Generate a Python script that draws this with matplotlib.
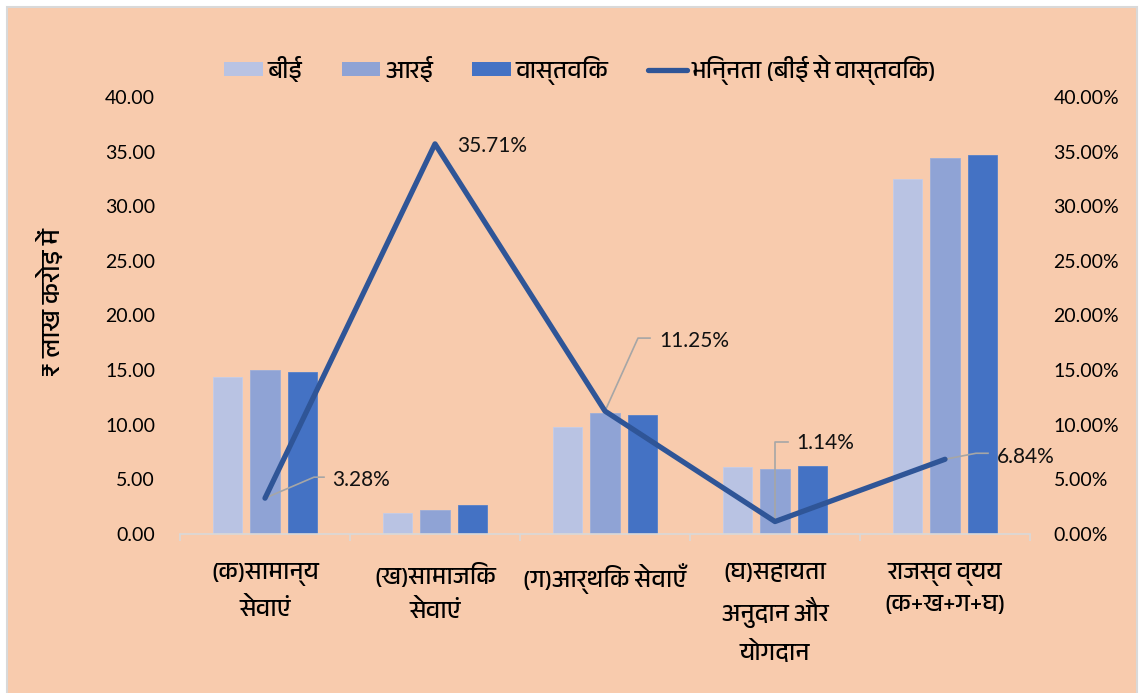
import matplotlib
matplotlib.use('Agg')
import matplotlib.pyplot as plt
from matplotlib import font_manager as fm
from matplotlib.ft2font import FT2Font
from matplotlib.patches import Rectangle, Patch
from matplotlib.lines import Line2D
import numpy as np

# ---------------- data ----------------
categories = ['(क)सामान्य\nसेवाएं', '(ख)सामाजिक\nसेवाएं', '(ग)आर्थिक सेवाएँ',
              '(घ)सहायता\nअनुदान और\nयोगदान', 'राजस्व व्यय\n(क+ख+ग+घ)']
be_values = [14.35, 1.92, 9.80, 6.13, 32.47]
re_values = [15.00, 2.20, 11.05, 5.92, 34.40]
actual_values = [14.82, 2.62, 10.92, 6.20, 34.68]
variance_pct = [3.28, 35.71, 11.25, 1.14, 6.84]
series_names = ['बीई', 'आरई', 'वास्तविक', 'भिन्नता (बीई से वास्तविक)']
y_label = '₹ लाख करोड़ में'
left_ticks = [0, 5, 10, 15, 20, 25, 30, 35, 40]
right_ticks = [0, 5, 10, 15, 20, 25, 30, 35, 40]

# ---------------- fonts ----------------
deva = None
cands = []
for f in fm.fontManager.ttflist:
    try:
        cm = FT2Font(f.fname).get_charmap()
    except Exception:
        continue
    if 0x0915 in cm:
        cands.append(f.name)
for c in cands:
    if 'Devanagari' in c:
        deva = c
        break
if deva is None and cands:
    deva = cands[0]
num_font = ['Lato', 'DejaVu Sans']
hin_font = ([deva] if deva else []) + ['Lato', 'DejaVu Sans']
plt.rcParams['font.family'] = hin_font

W, H = 1141, 693
fig = plt.figure(figsize=(W / 100, H / 100), dpi=100)
fig.patch.set_facecolor('white')
fig.patches.append(Rectangle((7 / W, -0.01), (1137 - 7) / W, 1 - 7 / H + 0.01,
                             transform=fig.transFigure, facecolor='#F8CBAD',
                             edgecolor='#D9D9D9', lw=1.5, zorder=-10))

L, R, B, T = 180, 1030, 534, 97
ax = fig.add_axes([L / W, 1 - B / H, (R - L) / W, (B - T) / H])
ax.set_facecolor('none')
ax2 = ax.twinx()

c_be, c_re, c_act, c_line = '#B9C3E3', '#8FA3D5', '#4472C4', '#2F5597'
x = np.arange(len(categories))
bw = 0.172
off = 0.221
ax.bar(x - off, be_values, bw, color=c_be, edgecolor='#C4CCE8', lw=0.6, zorder=2)
ax.bar(x, re_values, bw, color=c_re, edgecolor='#9CAED9', lw=0.6, zorder=2)
ax.bar(x + off, actual_values, bw, color=c_act, edgecolor='#5581CB', lw=0.6, zorder=2)

ax.set_xlim(-0.5, len(categories) - 0.5)
ax.set_ylim(0, 40)
ax2.set_ylim(0, 40)

var_line, = ax2.plot(x, variance_pct, color=c_line, lw=3.8, solid_capstyle='round',
                     solid_joinstyle='round', zorder=5)

# axes styling
for a in (ax, ax2):
    for s in ('left', 'right', 'top', 'bottom'):
        a.spines[s].set_visible(False)
ax.spines['bottom'].set_visible(True)
ax.spines['bottom'].set_color('#D9D9D9')
ax.spines['bottom'].set_linewidth(1.2)

ax.set_yticks(left_ticks)
ax.set_yticklabels([f'{v:.2f}' for v in left_ticks], family=num_font, fontsize=14)
ax.tick_params(axis='y', length=0, pad=18)
ax2.set_yticks(right_ticks)
ax2.set_yticklabels([f'{v:.2f}%' for v in right_ticks], family=num_font, fontsize=14)
ax2.tick_params(axis='y', length=0, pad=17)

ax.set_xticks(x)
ax.set_xticklabels(categories, fontsize=17.5, linespacing=1.58, va='top')
ax.tick_params(axis='x', which='major', length=0, pad=21)
ax.set_xticks(np.arange(-0.5, len(categories), 1.0), minor=True)
ax.tick_params(axis='x', which='minor', length=5, color='#D9D9D9', width=1.2)

fig.text(50 / W, 1 - 302 / H, y_label, rotation=90, ha='center', va='center',
         fontsize=19)

# data labels with leader lines (offsets in pixels relative to point)
label_specs = [
    [(0, 0), (49, 21), (59, 21)],
    None,
    [(0, 0), (33, 73), (45, 73)],
    [(0, 0), (0, 80), (13, 80)],
    [(0, 0), (31, 6), (43, 6)],
]
text_offsets = [(67, 18), (22, -2), (54, 70), (21, 79), (52, 2)]
fig.canvas.draw()
for i, v in enumerate(variance_pct):
    px, py = ax2.transData.transform((x[i], v))
    spec = label_specs[i]
    if spec is not None:
        xs = [px + dx for dx, dy in spec]
        ys = [py + dy for dx, dy in spec]
        ax2.add_line(Line2D(xs, ys, transform=None, color='#A6A6A6', lw=1.2, zorder=4))
    tx, ty = text_offsets[i]
    ax2.text(px + tx, py + ty, f'{v:.2f}%', transform=None, ha='left', va='center',
             fontsize=15, family=num_font, color='#111111', zorder=6)

handles = [Patch(facecolor=c_be, edgecolor='none'), Patch(facecolor=c_re, edgecolor='none'),
           Patch(facecolor=c_act, edgecolor='none'),
           Line2D([0], [0], color=c_line, lw=3.8, solid_capstyle='round')]
fig.legend(handles, series_names, loc='center', bbox_to_anchor=(580 / W, 1 - 70 / H),
           ncol=4, frameon=False, fontsize=17.5, handlelength=1.6, handleheight=0.5,
           handletextpad=0.2, columnspacing=1.6)

fig.savefig('out.png', dpi=100, facecolor=fig.get_facecolor())
